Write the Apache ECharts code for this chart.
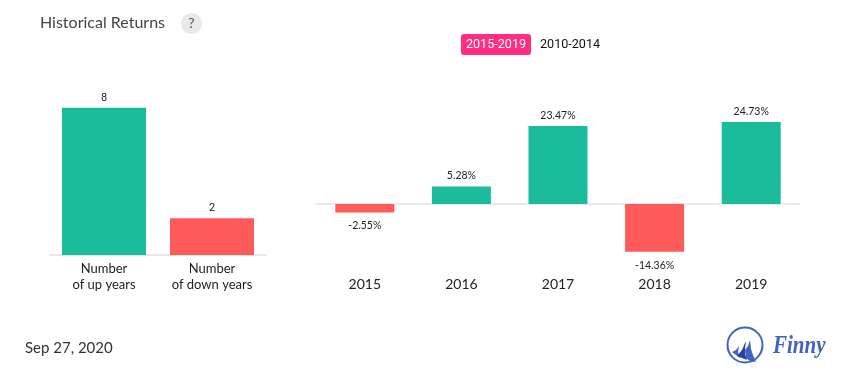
<!DOCTYPE html>
<html><head><meta charset="utf-8">
<style>html,body{margin:0;padding:0;background:#fff}#c{width:855px;height:382px}</style>
<script src="https://cdn.jsdelivr.net/npm/echarts@6/dist/echarts.min.js"></script>
</head><body><div id="c"></div>
<script>
const countCategories = ['Number\nof up years', 'Number\nof down years'];
const countValues = [8, 2];
const years = ['2015', '2016', '2017', '2018', '2019'];
const returns = [-2.55, 5.28, 23.47, -14.36, 24.73];
const titleText = 'Historical Returns';
const dateText = 'Sep 27, 2020';
const GREEN = '#1abc9c', RED = '#ff5a5a', AXIS = '#e8e8e8', FONT = 'Lato', BLUE = '#3f62c4';

const chart = echarts.init(document.getElementById('c'), null, {renderer: 'canvas'});
chart.setOption({
  animation: false,
  backgroundColor: '#fff',
  grid: [
    {left: 50, width: 216, top: 71, height: 184},
    {left: 316.5, width: 483, top: 104.4, height: 166}
  ],
  xAxis: [
    {gridIndex: 0, type: 'category', data: countCategories,
     axisLine: {lineStyle: {color: AXIS, width: 2}}, axisTick: {show: false},
     axisLabel: {color: '#222', fontFamily: FONT, fontSize: 13, lineHeight: 16, margin: 6, interval: 0}},
    {gridIndex: 1, type: 'category', data: years,
     axisLine: {onZero: true, lineStyle: {color: AXIS, width: 2}}, axisTick: {show: false}, axisLabel: {show: false}},
    {gridIndex: 1, type: 'category', data: years, position: 'bottom',
     axisLine: {show: false, onZero: false}, axisTick: {show: false},
     axisLabel: {color: '#222', fontFamily: FONT, fontSize: 14, margin: 7, interval: 0}}
  ],
  yAxis: [
    {gridIndex: 0, type: 'value', min: 0, max: 10, show: false},
    {gridIndex: 1, type: 'value', min: -20, max: 30, show: false}
  ],
  series: [
    {type: 'bar', xAxisIndex: 0, yAxisIndex: 0, barWidth: 84,
     data: countValues.map((v, i) => ({value: v, itemStyle: {color: i === 0 ? GREEN : RED}})),
     label: {show: true, position: 'top', distance: 4, fontFamily: 'Roboto', fontSize: 11, color: '#222'}},
    // White halo that breaks the zero line either side of each bar.
    {type: 'bar', xAxisIndex: 2, yAxisIndex: 1, barWidth: 63, silent: true,
     data: returns, itemStyle: {color: '#fff'}},
    {type: 'bar', xAxisIndex: 1, yAxisIndex: 1, barWidth: 59,
     data: returns.map(v => ({
       value: v,
       itemStyle: {color: v >= 0 ? GREEN : RED},
       label: {position: v >= 0 ? 'top' : 'bottom', distance: v >= 0 ? 5 : 8}
     })),
     label: {show: true, fontFamily: FONT, fontSize: 10.5, color: '#222',
       formatter: p => p.value.toFixed(2) + '%'}}
  ],
  graphic: [
    {type: 'text', x: 40, y: 23, style: {text: titleText, font: '16px Lato', fill: '#444', verticalAlign: 'middle'}},
    {type: 'circle', shape: {cx: 191.5, cy: 23.5, r: 10.5}, style: {fill: '#e8e8e8'}},
    {type: 'text', x: 191.5, y: 23.5, style: {text: '?', font: '14px Lato', fill: '#555', align: 'center', verticalAlign: 'middle'}},
    {type: 'rect', shape: {x: 461, y: 34, width: 70, height: 21, r: 3}, style: {fill: '#ff2e82'}},
    {type: 'text', x: 496, y: 45, style: {text: '2015-2019', font: '12.6px Roboto', fill: '#fff', align: 'center', verticalAlign: 'middle'}},
    {type: 'text', x: 540, y: 45, style: {text: '2010-2014', font: '12.6px Roboto', fill: '#111', verticalAlign: 'middle'}},
    {type: 'text', x: 25, y: 348, style: {text: dateText, font: '15px Lato', fill: '#333', verticalAlign: 'middle'}},
    {type: 'circle', shape: {cx: 745, cy: 345, r: 17.5}, style: {fill: 'none', stroke: BLUE, lineWidth: 2}},
    {type: 'polygon', shape: {points: [[732,352],[736,350],[739,346],[738,352],[740,358]]}, style: {fill: BLUE}},
    {type: 'polygon', shape: {points: [[737,356],[742,350],[745,343],[746,342],[745,348],[745,354],[747,360]]}, style: {fill: '#23459f'}},
    {type: 'polygon', shape: {points: [[745,350],[748,346],[750,340],[751,349],[753,355],[756,362],[750,361],[746,358]]}, style: {fill: BLUE}},
    {type: 'text', x: 773, y: 347, scaleX: 0.84, style: {text: 'Finny', font: 'italic bold 25px "Liberation Serif"', fill: BLUE, verticalAlign: 'middle'}}
  ]
});
</script></body></html>
